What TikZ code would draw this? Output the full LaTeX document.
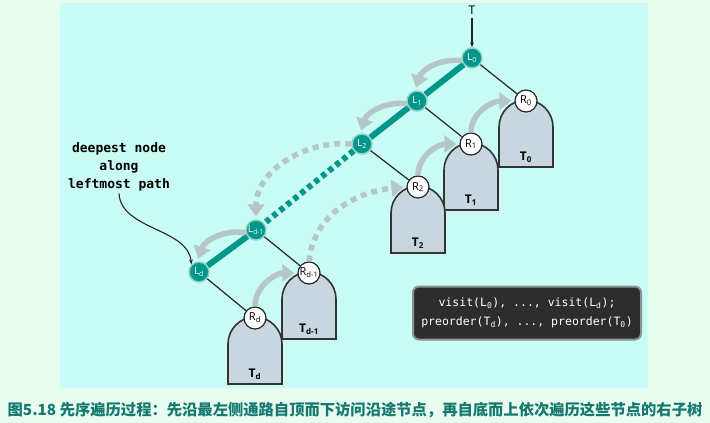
\documentclass[tikz,border=0pt]{standalone}
\usepackage{fontspec}
\setsansfont{Open Sans}
\setmonofont{DejaVu Sans Mono}
\newfontfamily\cjk{Noto Sans CJK SC}
\usepackage{xcolor}
\usetikzlibrary{arrows.meta}
\tikzset{lnode/.style={circle,fill=tealacc,draw=tealring,line width=1.5pt,minimum size=20pt,inner sep=0pt,text=white,font=\sffamily\fontsize{10}{10}\selectfont},
rnode/.style={circle,fill=white,draw=black!85,line width=1.2pt,minimum size=22pt,inner sep=0pt,font=\sffamily\fontsize{11}{11}\selectfont},
tree/.style={fill=treefill,draw=black!80,line width=1.6pt},
tlabel/.style={font=\sffamily\bfseries\fontsize{12}{12}\selectfont,inner sep=1pt},
edge/.style={black!85,line width=1.2pt},
spine/.style={tealacc,line width=6pt},
spinedot/.style={tealacc,line width=6pt,dash pattern=on 5pt off 4pt},
backarc/.style={-{Triangle[length=12pt,width=17pt]},graysoft,line width=5.5pt,shorten >=3pt},
backdot/.style={backarc,dash pattern=on 6pt off 5pt},
pointer/.style={-{Stealth[length=5pt]},black!85,line width=1.1pt}}
\definecolor{tealacc}{HTML}{00968A}
\definecolor{tealring}{HTML}{8ED2CA}
\definecolor{graysoft}{HTML}{B6C6C6}
\definecolor{treefill}{HTML}{C8D6E0}
\definecolor{panelbg}{HTML}{C8FCF4}
\definecolor{outerbg}{HTML}{E8FCF0}
\definecolor{codebg}{HTML}{2D2D2D}
\definecolor{captext}{HTML}{16796F}

\begin{document}
\begin{tikzpicture}[x=1pt,y=1pt]
\useasboundingbox (0,0) rectangle (710,-423);
\fill[outerbg] (0,0) rectangle (710,-423);
\fill[panelbg] (60,-3) rectangle (648,-388);
% right subtrees, deepest drawn last
\foreach \i/\x/\y/\s in {0/526/101/0,1/471/144/1,2/418/187/2,dm/309/273/{d-1},d/255/318/d}{
\draw[tree] (\x-27,-\y-26) arc(180:0:27) -- ++(0,-40) -- ++(-54,0) -- cycle;
\node[tlabel] (T\i) at (\x,-\y-56) {T\textsubscript{\s}};
\node[rnode] (R\i) at (\x,-\y) {R\textsubscript{\s}};}
\foreach \i/\x/\y/\s in {0/472/58/0,1/417/101/1,2/362/144/2,dm/256/230/{d-1},d/199/272/d}
\node[lnode] (L\i) at (\x,-\y) {L\textsubscript{\s}};
\foreach \i in {0,1,2,dm,d} \draw[edge] (L\i) -- (R\i);
\draw[spine] (L0) -- (L1) -- (L2);
\draw[spinedot] (L2) -- (Ldm);
\draw[spine] (Ldm) -- (Ld);
% going down the left path
\draw[backarc] (L0.195) to[bend right=40] (L1.100);
\draw[backarc] (L1.195) to[bend right=40] (L2.100);
\draw[backdot] (L2.west) to[out=175,in=90] (Ldm.north);
\draw[backarc] (Ldm.195) to[bend right=40] (Ld.100);
% coming back up through the subtrees
\draw[backarc] (Rd.north) to[out=90,in=180] (Rdm.west);
\draw[backdot] (Rdm.north) to[out=85,in=185] (R2.west);
\draw[backarc] (R2.north) to[out=90,in=180] (R1.west);
\draw[backarc] (R1.north) to[out=90,in=180] (R0.west);
\node[font=\sffamily\fontsize{12}{12}\selectfont] (top) at (472,-10) {T};
\draw[pointer] (top) -- (L0);
\node[align=center,inner sep=2pt,font=\ttfamily\bfseries\fontsize{13}{18}\selectfont] (note) at (119,-167) {deepest node\\along\\leftmost path};
\draw[pointer] (note.south) .. controls (121,-230) and (188,-228) .. (Ld.north west);
\node[rounded corners=6pt,fill=codebg,draw=black!25!graysoft,line width=2pt,text=white,align=center,minimum width=228pt,minimum height=53pt,inner sep=2pt,font=\ttfamily\fontsize{11.5}{19}\selectfont] (code) at (527,-313) {visit(L\textsubscript{0}), ..., visit(L\textsubscript{d});\\preorder(T\textsubscript{d}), ..., preorder(T\textsubscript{0})};
\node[text=captext,font=\cjk\bfseries\fontsize{15.3}{16}\selectfont] (cap) at (355,-410) {图5.18 先序遍历过程：先沿最左侧通路自顶而下访问沿途节点，再自底而上依次遍历这些节点的右子树};
\end{tikzpicture}
\end{document}
